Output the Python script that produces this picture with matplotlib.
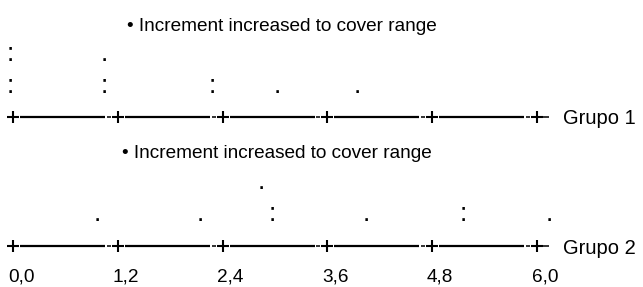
import matplotlib
matplotlib.use("Agg")
import matplotlib.pyplot as plt

# eje y etiquetas
ticks = [0.0, 1.2, 2.4, 3.6, 4.8, 6.0]
tick_labels = ["0,0", "1,2", "2,4", "3,6", "4,8", "6,0"]
groups = ["Grupo 1", "Grupo 2"]
note = "\u2022 Increment increased to cover range"

# simbolos del dotplot por fila (fila 0 = la de abajo), x en unidades del eje
g1_row0_x = [-0.03, 1.05, 2.28, 3.03, 3.94]
g1_row0_sym = [":", ":", ":", ".", "."]
g1_row1_x = [-0.03, 1.05]
g1_row1_sym = [":", "."]

g2_row0_x = [0.97, 2.14, 2.97, 4.05, 5.16, 6.14]
g2_row0_sym = [".", ".", ":", ".", ":", "."]
g2_row1_x = [2.84]
g2_row1_sym = ["."]

plt.rcParams["font.family"] = ["Liberation Sans", "DejaVu Sans"]
FS = 13.7      # textos
FS_GRP = 14.5  # nombres de grupo
FS_DOT = 19    # puntos del dotplot

PX = 87.33  # pixels por unidad
fig = plt.figure(figsize=(6.43, 2.87), dpi=100)
ax = fig.add_axes([0, 0, 1, 1])
ax.set_xlim(-13 / PX, 630 / PX)
ax.set_ylim(287, 0)
ax.axis("off")


def draw_axis(y, label):
    for t in ticks[:-1]:
        ax.plot([t + 0.08, t + 1.2 - 0.147], [y, y], color="black", lw=1.6, solid_capstyle="butt")
        ax.plot([t + 1.2 - 0.126, t + 1.2 - 0.08], [y, y], color="#333333", lw=1.4, solid_capstyle="butt")
    ax.plot([ticks[-1] + 0.07, ticks[-1] + 0.14], [y, y], color="#333333", lw=1.4, solid_capstyle="butt")
    ax.plot(ticks, [y] * len(ticks), "+", color="black", ms=9, mew=1.5)
    ax.text(6.3, y + 7.5, label, fontsize=FS_GRP, ha="left", va="baseline")


def draw_row(xs, syms, base):
    for x, s in zip(xs, syms):
        ax.text(x, base, s, fontsize=FS_DOT, ha="center", va="baseline")


# Grupo 1
ax.text(1.305, 31, note, fontsize=FS, ha="left", va="baseline")
draw_row(g1_row1_x, g1_row1_sym, 61)
draw_row(g1_row0_x, g1_row0_sym, 93)
draw_axis(117, groups[0])

# Grupo 2
ax.text(1.248, 158, note, fontsize=FS, ha="left", va="baseline")
draw_row(g2_row1_x, g2_row1_sym, 189)
draw_row(g2_row0_x, g2_row0_sym, 221)
draw_axis(246, groups[1])

for t, lab in zip(ticks, tick_labels):
    ax.text(t - 0.06, 282, lab, fontsize=FS, ha="left", va="baseline")

fig.savefig("out.png", dpi=100)
